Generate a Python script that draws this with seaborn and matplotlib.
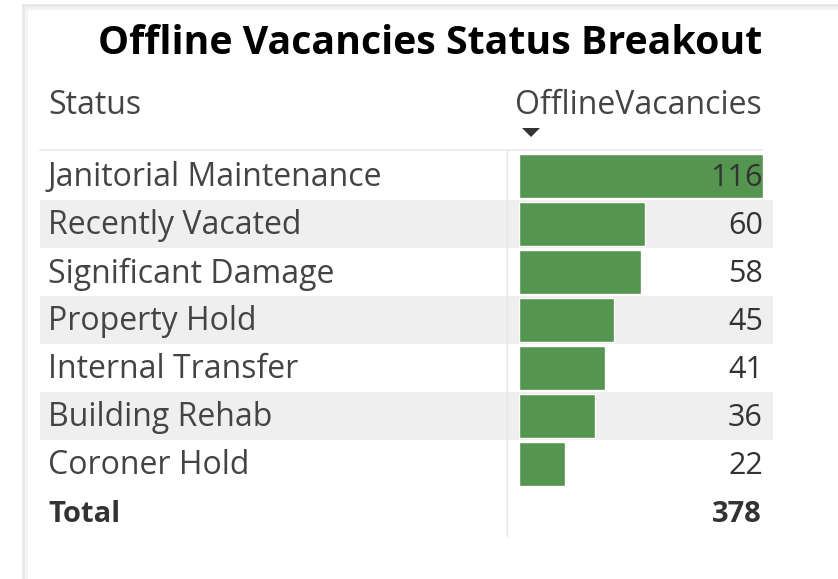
import matplotlib
matplotlib.use("Agg")
import matplotlib.pyplot as plt
import seaborn as sns
import pandas as pd
from matplotlib.patches import Rectangle, Polygon

# data
statuses = ["Janitorial Maintenance", "Recently Vacated", "Significant Damage",
            "Property Hold", "Internal Transfer", "Building Rehab", "Coroner Hold"]
vacancies = [116, 60, 58, 45, 41, 36, 22]
total_label = "Total"
total_value = sum(vacancies)

df = pd.DataFrame({"Status": statuses, "OfflineVacancies": vacancies})

sns.set_style("white")
plt.rcParams["font.family"] = ["Open Sans", "DejaVu Sans"]

W, H = 838, 579
fig = plt.figure(figsize=(W / 100, H / 100), dpi=100)
fig.patch.set_facecolor("white")

# background axes in pixel coordinates for the table chrome and text
bg = fig.add_axes([0, 0, 1, 1])
bg.set_xlim(0, W)
bg.set_ylim(H, 0)
bg.axis("off")

# card with soft shadow
bg.add_patch(Rectangle((22, 4), 820, 590, facecolor="#e9e9e9", edgecolor="none"))
bg.add_patch(Rectangle((25, 7), 820, 590, facecolor="#f3f3f3", edgecolor="none"))
bg.add_patch(Rectangle((28, 10), 820, 590, facecolor="white", edgecolor="none"))

row_top = 152
row_h = 48
col_left = 40
col_right = 773
bar_left = 519
bar_right = 763
num_x = 762
fs = 23

bg.text(num_x, 44, "Offline Vacancies Status Breakout", ha="right", va="center",
        fontsize=28.3, fontweight="bold", color="black")
bg.text(48, 106, "Status", ha="left", va="center", fontsize=fs, color="#444444")
bg.text(num_x, 106, "OfflineVacancies", ha="right", va="center", fontsize=fs, color="#444444")
bg.add_patch(Polygon([[522, 128], [540, 128], [531, 137]], closed=True,
                     facecolor="#333333", edgecolor="none"))
bg.plot([col_left, num_x], [150, 150], color="#eeeeee", lw=1.5)
bg.plot([507, 507], [150, 536], color="#e6e6e6", lw=1, zorder=3)

for i, (s, v) in enumerate(zip(statuses, vacancies)):
    yc = row_top + row_h * (i + 0.5) + 2
    if i % 2 == 1:
        bg.add_patch(Rectangle((col_left, row_top + row_h * i), col_right - col_left, row_h,
                               facecolor="#efefef", edgecolor="none", zorder=2))
    bg.text(48, yc, s, ha="left", va="center", fontsize=fs, color="#444444", zorder=4)

yt = row_top + row_h * (len(statuses) + 0.5) + 2
bg.text(48, yt, total_label, ha="left", va="center", fontsize=21,
        fontweight="bold", color="#333333")
bg.text(num_x, yt, f"{total_value}", ha="right", va="center", fontsize=21,
        fontweight="bold", color="#333333")

# data bars column
ax = fig.add_axes([bar_left / W, 1 - (row_top + row_h * len(statuses)) / H,
                   (bar_right - bar_left) / W, row_h * len(statuses) / H])
ax.patch.set_alpha(0)
sns.barplot(data=df, y="Status", x="OfflineVacancies", color="#559550",
            saturation=1, width=0.9, ax=ax, orient="h")
ax.set_xlim(0, max(vacancies))
ax.set_ylim(len(statuses) - 0.5, -0.5)
ax.axis("off")
for i, v in enumerate(vacancies):
    ax.text(1.0, i + 0.04, f"{v}", transform=ax.get_yaxis_transform(), ha="right",
            va="center", fontsize=22, color="#333333")

fig.savefig("out.png", dpi=100)
